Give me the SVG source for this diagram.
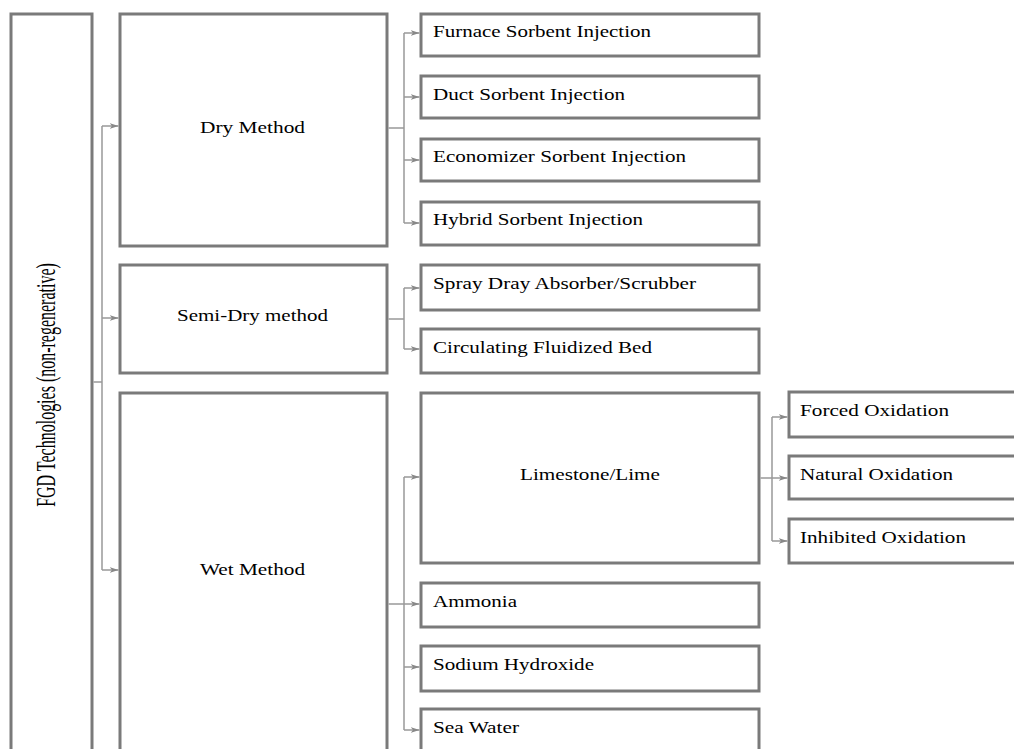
<svg xmlns="http://www.w3.org/2000/svg" width="1014" height="749" viewBox="0 0 1014 749">
<style>
.box{fill:#fff;stroke:#7a7a7a;stroke-width:3}
.lbl{font-family:"Liberation Serif","Times New Roman",serif;font-size:17px;fill:#000}
.ctr{text-anchor:middle}
.con{fill:none;stroke:#999;stroke-width:1.5}
</style>
<defs>
<marker id="arr" markerWidth="10" markerHeight="8" refX="9" refY="4" orient="auto" markerUnits="userSpaceOnUse">
<path d="M0,1 L9,4 L0,7 L2.5,4 z" fill="#888"/>
</marker>
</defs>
<rect width="1014" height="749" fill="#fff"/>
<g id="root">
<rect class="box" x="11" y="14" width="81" height="760"/>
<text class="lbl ctr" style="font-size:16px" transform="translate(55,385) scale(1.65,1) rotate(-90)">FGD Technologies (non-regenerative)</text>
</g>
<g id="dry">
<rect class="box" x="120" y="14" width="267" height="232"/>
<text class="lbl" x="200" y="133" textLength="105" lengthAdjust="spacingAndGlyphs">Dry Method</text>
</g>
<g id="semidry">
<rect class="box" x="120" y="265" width="267" height="108"/>
<text class="lbl" x="177" y="321" textLength="151" lengthAdjust="spacingAndGlyphs">Semi-Dry method</text>
</g>
<g id="wet">
<rect class="box" x="120" y="393" width="267" height="380"/>
<text class="lbl" x="200" y="575" textLength="105" lengthAdjust="spacingAndGlyphs">Wet Method</text>
</g>
<g id="furnace">
<rect class="box" x="421" y="14" width="338" height="42"/>
<text class="lbl" x="433" y="37" textLength="218" lengthAdjust="spacingAndGlyphs">Furnace Sorbent Injection</text>
</g>
<g id="duct">
<rect class="box" x="421" y="76" width="338" height="42"/>
<text class="lbl" x="433" y="100" textLength="192" lengthAdjust="spacingAndGlyphs">Duct Sorbent Injection</text>
</g>
<g id="economizer">
<rect class="box" x="421" y="139" width="338" height="42"/>
<text class="lbl" x="433" y="162" textLength="253" lengthAdjust="spacingAndGlyphs">Economizer Sorbent Injection</text>
</g>
<g id="hybrid">
<rect class="box" x="421" y="202" width="338" height="43"/>
<text class="lbl" x="433" y="225" textLength="210" lengthAdjust="spacingAndGlyphs">Hybrid Sorbent Injection</text>
</g>
<g id="spray">
<rect class="box" x="421" y="265" width="338" height="45"/>
<text class="lbl" x="433" y="289" textLength="263" lengthAdjust="spacingAndGlyphs">Spray Dray Absorber/Scrubber</text>
</g>
<g id="cfb">
<rect class="box" x="421" y="329" width="338" height="44"/>
<text class="lbl" x="433" y="353" textLength="219" lengthAdjust="spacingAndGlyphs">Circulating Fluidized Bed</text>
</g>
<g id="limestone">
<rect class="box" x="421" y="393" width="338" height="170"/>
<text class="lbl" x="520" y="480" textLength="140" lengthAdjust="spacingAndGlyphs">Limestone/Lime</text>
</g>
<g id="ammonia">
<rect class="box" x="421" y="583" width="338" height="44"/>
<text class="lbl" x="433" y="607" textLength="84" lengthAdjust="spacingAndGlyphs">Ammonia</text>
</g>
<g id="naoh">
<rect class="box" x="421" y="646" width="338" height="45"/>
<text class="lbl" x="433" y="670" textLength="161" lengthAdjust="spacingAndGlyphs">Sodium Hydroxide</text>
</g>
<g id="seawater">
<rect class="box" x="421" y="709" width="338" height="60"/>
<text class="lbl" x="433" y="733" textLength="86" lengthAdjust="spacingAndGlyphs">Sea Water</text>
</g>
<g id="forced">
<rect class="box" x="789" y="392" width="240" height="45"/>
<text class="lbl" x="800" y="416" textLength="149" lengthAdjust="spacingAndGlyphs">Forced Oxidation</text>
</g>
<g id="natural">
<rect class="box" x="789" y="456" width="240" height="43"/>
<text class="lbl" x="800" y="480" textLength="153" lengthAdjust="spacingAndGlyphs">Natural Oxidation</text>
</g>
<g id="inhibited">
<rect class="box" x="789" y="519" width="240" height="44"/>
<text class="lbl" x="800" y="543" textLength="166" lengthAdjust="spacingAndGlyphs">Inhibited Oxidation</text>
</g>
<g id="connectors">
<path class="con" d="M93.5,382 H102 M102,126 V570"/>
<path class="con" d="M102,126 H118.5" marker-end="url(#arr)"/>
<path class="con" d="M102,318 H118.5" marker-end="url(#arr)"/>
<path class="con" d="M102,570 H118.5" marker-end="url(#arr)"/>
<path class="con" d="M388.5,128 H404 M404,33 V223"/>
<path class="con" d="M404,33 H419.5" marker-end="url(#arr)"/>
<path class="con" d="M404,97 H419.5" marker-end="url(#arr)"/>
<path class="con" d="M404,160 H419.5" marker-end="url(#arr)"/>
<path class="con" d="M404,223 H419.5" marker-end="url(#arr)"/>
<path class="con" d="M388.5,319 H404 M404,288 V349"/>
<path class="con" d="M404,288 H419.5" marker-end="url(#arr)"/>
<path class="con" d="M404,349 H419.5" marker-end="url(#arr)"/>
<path class="con" d="M404,477 V730"/>
<path class="con" d="M404,477 H419.5" marker-end="url(#arr)"/>
<path class="con" d="M388.5,604 H419.5" marker-end="url(#arr)"/>
<path class="con" d="M404,667 H419.5" marker-end="url(#arr)"/>
<path class="con" d="M404,730 H419.5" marker-end="url(#arr)"/>
<path class="con" d="M772,417 V541"/>
<path class="con" d="M760.5,478 H787.5" marker-end="url(#arr)"/>
<path class="con" d="M772,417 H787.5" marker-end="url(#arr)"/>
<path class="con" d="M772,541 H787.5" marker-end="url(#arr)"/>
</g>
</svg>
